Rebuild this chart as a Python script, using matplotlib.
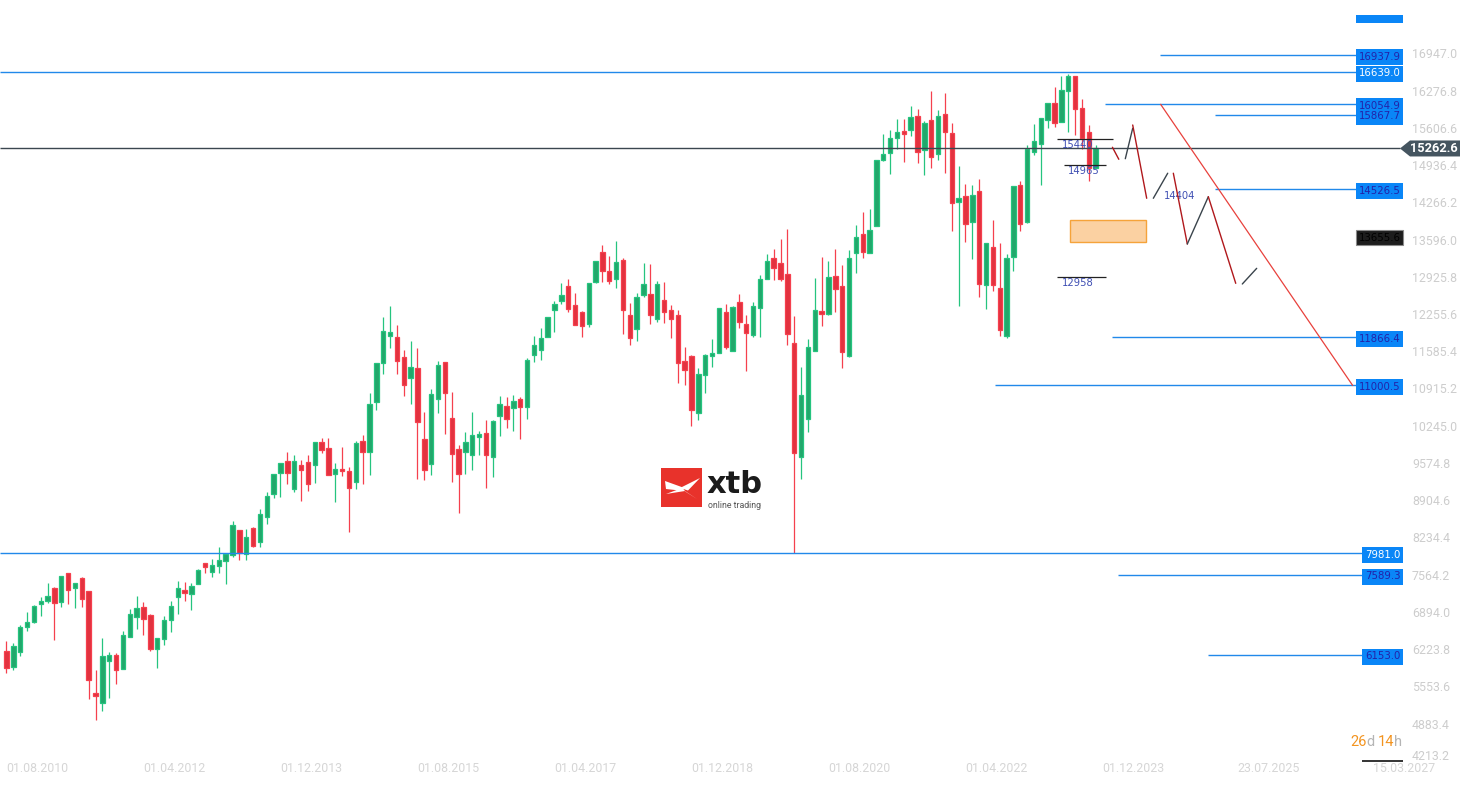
import matplotlib
matplotlib.use('Agg')
import matplotlib.pyplot as plt
from matplotlib.patches import Rectangle, Polygon
import numpy as np
import pandas as pd

# ---------------- data ----------------
first_month = '2010-08-01'
opens = [6217,5935,6205,6655,6733,7057,7123,7345,7093,7615,
         7345,7525,7291,5455,5287,6031,6139,5887,6463,6823,
         7003,6859,6247,6439,6769,7195,7321,7249,7417,7795,
         7633,7741,7831,7939,8389,7963,8437,8179,8623,9037,
         9415,9643,9127,9559,9613,9559,9973,9865,9397,9487,
         9451,9253,9991,9793,10693,11395,11881,11863,11503,11125,
         11305,10027,9577,10747,11413,10405,9847,9793,9739,10075,
         10135,9703,10441,10621,10585,10747,10603,11539,11629,11863,
         12349,12511,12781,12439,12313,12097,12853,13393,13051,12907,
         13249,12259,12007,12619,12637,12187,12535,12355,12259,11431,
         11527,10495,11179,11521,11587,12313,11611,12493,12097,11911,
         12397,12913,13285,13195,13003,11755,9715,10399,11617,12337,
         12289,12961,12781,11521,13375,13717,13375,13861,15049,15175,
         15445,15571,15589,15841,15229,15769,15157,15877,15535,14293,
         14401,13933,14491,12799,13483,12745,11881,13303,14599,13933,
         15193,15337,15769,16075,15733,16291,16567,15985,15553,14905]
highs = [6397,6361,6685,6919,7045,7189,7441,7369,7561,7615,
         7435,7549,7291,5875,6451,6199,6181,6577,6973,7207,
         7099,6883,6445,6847,7117,7477,7459,7441,7687,7795,
         7873,8089,7957,8557,8389,8407,8455,8767,9073,9409,
         9607,9793,9745,9649,9745,9973,10051,10051,9601,9889,
         9529,9997,10105,10861,11395,12229,12427,12085,11635,11797,
         11671,10519,10933,11437,11413,10879,9925,10159,10519,10177,
         10369,10369,10807,10789,10825,10789,11491,11887,12031,12223,
         12511,12835,12907,12655,12331,12835,13231,13519,13321,13591,
         13285,12475,12655,13195,13177,12871,12859,12445,12355,11689,
         11551,11311,11557,11833,12385,12463,12427,12643,12265,12499,
         12979,13369,13459,13633,13813,12253,11335,11833,12931,13309,
         13237,13453,13165,13435,13885,14119,14173,15049,15523,15595,
         15793,15793,16027,15973,15751,16297,15949,16255,15715,14941,
         14617,14599,14707,13555,13969,13555,13357,14581,14671,15319,
         15703,15805,16075,16363,16567,16603,16567,16147,15679,15319]
lows = [5827,5881,6133,6583,6727,6847,7087,6421,7015,7069,
        6997,7015,5359,4975,5143,5377,5629,5887,6463,6619,
        6511,6223,5917,6331,6565,6889,7123,6961,7417,7627,
        7555,7627,7429,7915,7855,7855,8095,8095,8497,8977,
        8995,9229,9085,8923,9103,9247,9775,9379,8905,9373,
        8365,9139,9229,9391,10561,11209,11677,11197,10813,10657,
        9319,9301,9391,10507,10129,9265,8707,9409,9481,9739,
        9157,9355,10093,10237,10183,10039,10393,11413,11455,11863,
        11965,12457,12313,12079,11875,12043,12835,12853,12817,12745,
        11917,11719,11791,12583,12097,12133,12127,11857,11035,11011,
        10273,10375,10867,11335,11587,11653,11611,12037,11263,11875,
        11875,12907,12889,12877,11731,7975,9307,10165,11617,12067,
        12271,12325,11317,11503,13015,13297,13375,13861,15031,14803,
        15247,15025,15481,15007,14791,14917,15049,14827,13783,12433,
        13585,13279,12595,12379,12703,11881,11845,13051,13771,13915,
        15145,14605,15637,15655,15733,15565,15499,15247,14671,14905]
closes = [5905,6307,6643,6733,7021,7117,7201,7075,7561,7321,
          7435,7147,5701,5413,6121,6139,5881,6499,6877,6985,
          6787,6259,6445,6769,7021,7345,7255,7381,7669,7723,
          7759,7849,7957,8479,7975,8275,8107,8689,9013,9409,
          9607,9415,9643,9469,9217,9973,9835,9379,9487,9451,
          9145,9955,9793,10657,11395,11971,11953,11431,10999,11323,
          10333,9469,10837,11359,10855,9757,9397,9973,10099,10123,
          9739,10351,10657,10387,10711,10603,11449,11719,11845,12223,
          12457,12619,12367,12079,12061,12835,13231,13051,12871,13213,
          12349,11845,12583,12817,12259,12817,12325,12199,11407,11269,
          10561,11203,11545,11575,12385,11683,12403,12133,11935,12421,
          12907,13231,13105,12913,11917,9775,10825,11683,12355,12289,
          12943,12727,11605,13285,13663,13393,13789,15049,15157,15445,
          15553,15517,15823,15193,15715,15103,15841,15553,14275,14365,
          13897,14419,12817,13555,12799,11989,13285,14581,13897,15247,
          15391,15805,16075,15715,16309,16567,15967,15457,14905,15262.6]

current_price = 15262.6
price_ticks = [16947.0, 16276.8, 15606.6, 14936.4, 14266.2, 13596.0, 12925.8,
               12255.6, 11585.4, 10915.2, 10245.0, 9574.8, 8904.6, 8234.4,
               7564.2, 6894.0, 6223.8, 5553.6, 4883.4, 4213.2]
date_ticks = ['2010-08-01', '2012-04-01', '2013-12-01', '2015-08-01', '2017-04-01',
              '2018-12-01', '2020-08-01', '2022-04-01', '2023-12-01', '2025-07-23',
              '2027-03-15']

# horizontal levels (value, start month index; None = full width)
level_values = [16937.9, 16639.0, 15867.7, 16054.9, 14526.5, 11866.4, 11000.5, 7981.0, 7589.3, 6153.0]
level_starts = [168.4, None, 176.4, 160.4, 176.4, 161.4, 144.3, None, 162.3, 175.4]
level_white = [False, True, False, False, False, False, False, True, False, False]
marked_value = 13655.6

# short marker lines with labels
mark_values = [15440, 14965, 12958]
mark_from = [153.4, 154.4, 153.4]
mark_to = [161.5, 160.5, 160.5]
note_value = 14404
note_x = 169.0

# projected zig-zag path (month index, price)
zig_x = [[161.45, 162.38], [163.33, 164.41], [164.41, 166.45], [167.42, 169.52],
         [170.34, 172.38], [172.38, 175.45], [175.45, 179.45], [180.41, 182.51]]
zig_y = [[15284, 15068], [15078, 15626], [15685, 14366], [14366, 14817],
         [14817, 13543], [13543, 14394], [14394, 12835], [12823, 13105]]
trend_x = [168.5, 196.5]
trend_y = [16054.9, 11000.5]
zone_x = [155.3, 166.4]
zone_y = [13574, 13970]

# ---------------- figure ----------------
W, H, DPI = 1472, 787, 100
fig = plt.figure(figsize=(W / DPI, H / DPI), dpi=DPI)
fig.patch.set_facecolor('white')
ax = fig.add_axes([0, 0, 1, 1])

X0, DX = 6.5, 6.85          # pixel of first candle, pixels per month
Y0, P0, DY = 72.0, 16639.0, 18.0   # pixel/price anchor, price per pixel


def px(x):
    return (x - X0) / DX


def py(y):
    return P0 - (y - Y0) * DY


ax.set_xlim(px(0), px(W))
ax.set_ylim(py(H), py(0))
ax.axis('off')

o = np.array(opens, float)
h = np.array(highs, float)
l = np.array(lows, float)
c = np.array(closes, float)
idx = np.arange(len(o))
up = c >= o

G_FILL, G_EDGE = '#22a76b', '#25c47f'
R_FILL, R_EDGE = '#e2323f', '#f5404e'

ax.vlines(idx[up], l[up], h[up], color=G_EDGE, lw=0.9, zorder=2)
ax.vlines(idx[~up], l[~up], h[~up], color=R_EDGE, lw=0.9, zorder=2)
height = c - o
height = np.where(np.abs(height) < DY, np.where(up, DY, -DY), height)
bw = 4.4 / DX
ax.bar(idx[up], height[up], bottom=o[up], width=bw, color=G_FILL,
       edgecolor=G_EDGE, linewidth=0.9, zorder=3)
ax.bar(idx[~up], height[~up], bottom=o[~up], width=bw, color=R_FILL,
       edgecolor=R_EDGE, linewidth=0.9, zorder=3)

# price axis labels
LBL = '#cdcdcd'
for t in price_ticks:
    yv = max(t, py(757))
    ax.text(px(1412), yv, f'{t:.1f}', ha='left', va='center', fontsize=8.9,
            family='Roboto', color=LBL, zorder=5)

# date axis labels
base = pd.Timestamp(first_month)
for d in date_ticks:
    ts = pd.Timestamp(d)
    xi = (ts.year - base.year) * 12 + (ts.month - base.month) + (ts.day - 1) / ts.days_in_month
    ax.text(xi, py(769), ts.strftime('%d.%m.%Y'), ha='left', va='center',
            fontsize=8.9, family='Roboto', color='#d6d6d6', zorder=5)

# horizontal levels with boxes
LINE_BLUE = '#2189ea'
BOX_BLUE = '#0a86f7'
box_r = px(1403)
for v, s, wt in zip(level_values, level_starts, level_white):
    txt = f'{v:.1f}'
    box_l = px(1356) if len(txt) > 6 else px(1362)
    x_start = px(0) if s is None else s
    ax.hlines(v, x_start, box_l, color=LINE_BLUE, lw=1.0, zorder=4)
    ax.add_patch(Rectangle((box_l, v - 10 * DY), box_r - box_l, 16 * DY,
                           facecolor=BOX_BLUE, edgecolor='none', zorder=6))
    ax.text((box_l + box_r) / 2, v - 1.5 * DY, txt, ha='center', va='center', fontsize=7.3,
            family='DejaVu Sans', color='white' if wt else '#2322a8', zorder=7)

# top clipped box
ax.add_patch(Rectangle((px(1356), py(23.3)), px(1403) - px(1356), 8.5 * DY,
                       facecolor=BOX_BLUE, edgecolor='none', zorder=6))

# dark marked value box
ax.add_patch(Rectangle((px(1356), marked_value - 7.5 * DY), px(1403) - px(1356), 15 * DY,
                       facecolor='#1d1d1d', edgecolor='#8a8a8a', lw=0.8, zorder=6))
ax.text((px(1356) + px(1403)) / 2, marked_value, f'{marked_value:.1f}', ha='center',
        va='center', fontsize=7.3, family='DejaVu Sans', color='#000000', zorder=7)

# current price line and tag
ax.hlines(current_price, px(0), px(1400), color='#3b4750', lw=1.0, zorder=4)
tag = Polygon([(px(1400), current_price), (px(1410), current_price + 8 * DY),
               (px(1460), current_price + 8 * DY), (px(1460), current_price - 8 * DY),
               (px(1410), current_price - 8 * DY)], closed=True,
              facecolor='#455560', edgecolor='none', zorder=6)
ax.add_patch(tag)
ax.text(px(1434), current_price, f'{current_price:.1f}', ha='center', va='center',
        fontsize=9.2, family='Roboto', fontweight='bold', color='white', zorder=7)

# short marker lines
NAVY = '#3f4fb3'
for v, a, b in zip(mark_values, mark_from, mark_to):
    ax.hlines(v, a, b, color='#222222', lw=0.9, zorder=4)
    ax.text(a + 0.6, v - 6 * DY, f'{v}', ha='left', va='center', fontsize=7.2,
            family='DejaVu Sans', color=NAVY, zorder=5)
ax.text(note_x, note_value, f'{note_value}', ha='left', va='center', fontsize=7.2,
        family='DejaVu Sans', color=NAVY, zorder=5)

# zone
ax.add_patch(Rectangle((zone_x[0], zone_y[0]), zone_x[1] - zone_x[0], zone_y[1] - zone_y[0],
                       facecolor='#fbd1a2', edgecolor='#f5a33a', lw=1.0, zorder=4))

# zig-zag
for xs, ys in zip(zig_x, zig_y):
    col = '#b0181c' if ys[1] < ys[0] else '#3a444c'
    ax.plot(xs, ys, color=col, lw=1.0, zorder=5, solid_capstyle='round')

# trend line
ax.plot(trend_x, trend_y, color='#e8413c', lw=0.9, zorder=5)

# countdown
ax.text(px(1350), py(742), '26', ha='left', va='center', fontsize=10.5, family='Roboto',
        color='#f39420', zorder=5)
ax.text(px(1366), py(742), 'd', ha='left', va='center', fontsize=10.5, family='Roboto',
        color='#b5b5b5', zorder=5)
ax.text(px(1378), py(742), '14', ha='left', va='center', fontsize=10.5, family='Roboto',
        color='#f39420', zorder=5)
ax.text(px(1394), py(742), 'h', ha='left', va='center', fontsize=10.5, family='Roboto',
        color='#b5b5b5', zorder=5)
ax.hlines(py(761), px(1362), px(1403), color='#333333', lw=1.4, zorder=5)

# logo
lax = fig.add_axes([661 / W, 1 - 507 / H, 41 / W, 39 / H])
lax.set_xlim(0, 41)
lax.set_ylim(39, 0)
lax.axis('off')
lax.add_patch(Rectangle((0, 0), 41, 39, facecolor='#e8322b', edgecolor='none'))
lax.add_patch(Polygon([(4, 13), (22, 19.5), (23, 23), (5, 21)], closed=True,
                      facecolor='white', edgecolor='none'))
lax.add_patch(Polygon([(19, 20), (39, 10), (27, 22.5)], closed=True,
                      facecolor='white', edgecolor='none'))
lax.add_patch(Polygon([(5, 26), (21, 20), (24, 23)], closed=True,
                      facecolor='white', edgecolor='none'))
lax.add_patch(Polygon([(21, 21), (36, 31), (25, 24)], closed=True,
                      facecolor='white', edgecolor='none'))
fig.text(707 / W, 1 - 492.5 / H, 'xtb', ha='left', va='baseline', fontsize=22,
         family='DejaVu Sans', fontweight='bold', color='#1b1b1b')
fig.text(708 / W, 1 - 505 / H, 'online trading', ha='left', va='center', fontsize=6.3,
         family='Roboto', color='#555555')

fig.savefig('out.png', dpi=DPI, facecolor='white')
